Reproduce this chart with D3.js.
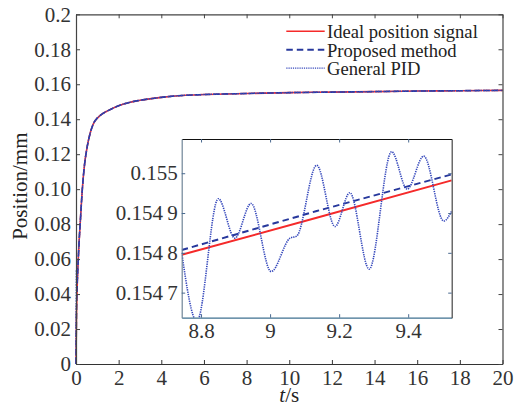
<!DOCTYPE html>
<html>
  <head>
    <meta charset="utf-8">
    <script src="https://d3js.org/d3.v7.min.js"></script>
    <title>Position response</title>
    <style>
      body { margin: 0px; background: #fff; }
      svg { font-family: "Liberation Serif", "Times New Roman", serif; }
      .tick text { fill: #333; }
    </style>
  </head>
  <body>
    <svg width="526" height="410"></svg>
    <script>
      // main view, t in s, position in mm
      const mainTime     = [0, 0.02, 0.05, 0.1, 0.15, 0.2, 0.3, 0.4, 0.5, 0.6, 0.7, 0.8, 0.95, 1.1, 1.25, 1.5, 2, 2.5, 3, 4, 5, 6, 8, 10, 12, 14, 16, 18, 20];
      const idealMain    = [0, 0.025, 0.042, 0.058, 0.071, 0.081, 0.1005, 0.114, 0.1225, 0.1288, 0.1335, 0.1370, 0.1400, 0.1418, 0.1432, 0.1449, 0.1477, 0.1496, 0.1508, 0.1525, 0.1536, 0.1541, 0.1547, 0.1552, 0.1555, 0.1558, 0.1561, 0.1563, 0.1565];
      const proposedMain = [0, 0.026, 0.043, 0.058, 0.071, 0.081, 0.1005, 0.114, 0.1225, 0.1288, 0.1335, 0.1370, 0.1400, 0.1418, 0.1432, 0.1449, 0.1477, 0.1496, 0.1508, 0.1525, 0.1536, 0.1541, 0.1547, 0.1552, 0.1555, 0.1558, 0.1561, 0.1563, 0.1565];
      const pidMain      = [0, 0.054, 0.046, 0.059, 0.071, 0.081, 0.1005, 0.114, 0.1225, 0.1288, 0.1335, 0.1370, 0.1400, 0.1418, 0.1432, 0.1449, 0.1477, 0.1496, 0.1508, 0.1525, 0.1536, 0.1541, 0.1547, 0.1552, 0.1555, 0.1558, 0.1561, 0.1563, 0.1565];

      // zoomed inset
      const insetTime     = [8.744, 9.135, 9.526];
      const idealInset    = [0.154795, 0.154888, 0.154982];
      const proposedInset = [0.154807, 0.154905, 0.154997];
      const pidTime  = [8.744, 8.788, 8.850, 8.898, 8.945, 9.003, 9.058, 9.077, 9.135, 9.188, 9.231, 9.287, 9.352, 9.397, 9.445, 9.503, 9.526];
      const pidInset = [0.154800, 0.154628, 0.154936, 0.154837, 0.154924, 0.154753, 0.154837, 0.154842, 0.155020, 0.154866, 0.154951, 0.154759, 0.155054, 0.154960, 0.155043, 0.154880, 0.154905];

      const xTicks = [0, 2, 4, 6, 8, 10, 12, 14, 16, 18, 20];
      const yTicks = [0, 0.02, 0.04, 0.06, 0.08, 0.10, 0.12, 0.14, 0.16, 0.18, 0.2];
      const yTickLabels = ['0', '0.02', '0.04', '0.06', '0.08', '0.10', '0.12', '0.14', '0.16', '0.18', '0.2'];
      const insetXTicks = [8.8, 9, 9.2, 9.4];
      const insetXTickLabels = ['8.8', '9', '9.2', '9.4'];
      const insetYTicks = [0.1547, 0.1548, 0.1549, 0.155];
      const insetYTickLabels = ['0.154\u20097', '0.154\u20098', '0.154\u20099', '0.155'];
      const legendLabels = ['Ideal position signal', 'Proposed method', 'General PID'];

      const red = '#f52a2a';
      const blue = '#27389c';
      const dotBlue = '#3346bb';

      const svg = d3.select('svg');
      const width = +svg.attr('width');
      const height = +svg.attr('height');
      const margin = { left: 76, right: 23.5, top: 14.3, bottom: 46 };
      const innerWidth = width - margin.left - margin.right;
      const innerHeight = height - margin.top - margin.bottom;

      const g = svg.append('g')
          .attr('transform', `translate(${margin.left}, ${margin.top})`);

      const xScale = d3.scaleLinear().domain([0, 20]).range([0, innerWidth]);
      const yScale = d3.scaleLinear().domain([0, 0.2]).range([innerHeight, 0]);

      const styleAxis = (sel, col) => {
        sel.attr('font-family', null).attr('font-size', null);
        sel.selectAll('path').attr('stroke', col).attr('stroke-width', 1.2);
        sel.selectAll('line').attr('stroke', col);
        sel.selectAll('text').style('font-size', '21px');
      };

      const main = g.append('g');
      const mainLine = vals => d3.line()
          .x((d, i) => xScale(mainTime[i]))
          .y(d => yScale(d))
          .curve(d3.curveMonotoneX)(vals);

      main.append('path').attr('d', mainLine(idealMain))
          .attr('fill', 'none').attr('stroke', red).attr('stroke-width', 1.6);
      main.append('path').attr('d', mainLine(proposedMain))
          .attr('fill', 'none').attr('stroke', blue).attr('stroke-width', 1.6)
          .attr('stroke-dasharray', '6,3');
      main.append('path').attr('d', mainLine(pidMain))
          .attr('fill', 'none').attr('stroke', dotBlue).attr('stroke-width', 1.4)
          .attr('stroke-dasharray', '1.5,1.2');

      // axes (ticks pointing inwards, boxed)
      g.append('g').attr('transform', `translate(0, ${innerHeight})`)
          .call(d3.axisBottom(xScale).tickValues(xTicks).tickFormat(d3.format('d'))
            .tickSize(-4).tickSizeOuter(0).tickPadding(6))
          .call(s => styleAxis(s, '#333'));
      g.append('g')
          .call(d3.axisTop(xScale).tickValues(xTicks).tickFormat('')
            .tickSize(-4).tickSizeOuter(0))
          .call(s => styleAxis(s, '#444'));
      g.append('g')
          .call(d3.axisLeft(yScale).tickValues(yTicks).tickFormat((d, i) => yTickLabels[i])
            .tickSize(-4).tickSizeOuter(0).tickPadding(5))
          .call(s => styleAxis(s, '#444'));
      g.append('g').attr('transform', `translate(${innerWidth}, 0)`)
          .call(d3.axisRight(yScale).tickValues(yTicks).tickFormat('')
            .tickSize(-4).tickSizeOuter(0))
          .call(s => styleAxis(s, '#444'));

      // axis titles
      const xTitle = svg.append('text')
          .attr('x', margin.left + innerWidth / 2)
          .attr('y', 402)
          .attr('text-anchor', 'middle')
          .style('font-size', '21px')
          .attr('fill', '#222');
      xTitle.append('tspan').attr('font-style', 'italic').text('t');
      xTitle.append('tspan').text('/s');

      svg.append('text')
          .attr('transform', `translate(26.5, ${margin.top + innerHeight / 2 - 3}) rotate(-90)`)
          .attr('text-anchor', 'middle')
          .style('font-size', '21px')
          .attr('fill', '#222')
          .text('Position/mm');

      // legend
      const legend = svg.append('g');
      const legendStyles = [
        { stroke: red, width: 1.6, dash: null },
        { stroke: blue, width: 2, dash: '6.5,4' },
        { stroke: dotBlue, width: 1.4, dash: '1.2,1' }
      ];
      legendLabels.forEach((label, i) => {
        const y = 38.3 + i * 18.4;
        legend.append('line')
            .attr('x1', 286.3).attr('x2', 324.7)
            .attr('y1', y - 7).attr('y2', y - 7)
            .attr('stroke', legendStyles[i].stroke)
            .attr('stroke-width', legendStyles[i].width)
            .attr('stroke-dasharray', legendStyles[i].dash);
        legend.append('text')
            .attr('x', 327).attr('y', y)
            .style('font-size', '18.6px')
            .attr('fill', '#222')
            .text(label);
      });

      // inset
      const inset = { left: 181.7, top: 139, right: 451.7, bottom: 317.7 };
      const ix = d3.scaleLinear().domain([8.744, 9.526]).range([0, inset.right - inset.left]);
      const iy = d3.scaleLinear().domain([0.154637, 0.155086]).range([inset.bottom - inset.top, 0]);
      const ig = svg.append('g').attr('transform', `translate(${inset.left}, ${inset.top})`);
      const ih = inset.bottom - inset.top;
      const iw = inset.right - inset.left;

      ig.append('rect').attr('width', iw).attr('height', ih).attr('fill', '#fff');

      svg.append('clipPath').attr('id', 'inset-clip')
        .append('rect').attr('width', iw).attr('height', ih);

      const ic = ig.append('g').attr('clip-path', 'url(#inset-clip)');
      const insetLine = (ts, vals, curve) => d3.line()
          .x((d, i) => ix(ts[i]))
          .y(d => iy(d))
          .curve(curve)(vals);

      ic.append('path').attr('d', insetLine(insetTime, idealInset, d3.curveLinear))
          .attr('fill', 'none').attr('stroke', red).attr('stroke-width', 2);
      ic.append('path').attr('d', insetLine(insetTime, proposedInset, d3.curveLinear))
          .attr('fill', 'none').attr('stroke', blue).attr('stroke-width', 2)
          .attr('stroke-dasharray', '6.5,4');
      ic.append('path').attr('d', insetLine(pidTime, pidInset, d3.curveMonotoneX))
          .attr('fill', 'none').attr('stroke', dotBlue).attr('stroke-width', 1.6)
          .attr('stroke-dasharray', '1.3,1');

      ig.append('g').attr('transform', `translate(0, ${ih})`)
          .call(d3.axisBottom(ix).tickValues(insetXTicks).tickFormat((d, i) => insetXTickLabels[i])
            .tickSize(-3.5).tickSizeOuter(0).tickPadding(5))
          .call(s => styleAxis(s, '#3f7090'));
      ig.append('g')
          .call(d3.axisTop(ix).tickValues(insetXTicks).tickFormat('')
            .tickSize(-3.5).tickSizeOuter(0))
          .call(s => styleAxis(s, '#111'));
      ig.append('g')
          .call(d3.axisLeft(iy).tickValues(insetYTicks).tickFormat((d, i) => insetYTickLabels[i])
            .tickSize(-3.5).tickSizeOuter(0).tickPadding(4))
          .call(s => styleAxis(s, '#6f8597'));
      ig.append('g').attr('transform', `translate(${iw}, 0)`)
          .call(d3.axisRight(iy).tickValues(insetYTicks).tickFormat('')
            .tickSize(-3.5).tickSizeOuter(0))
          .call(s => styleAxis(s, '#444'));
      ig.selectAll('.tick line').attr('stroke', '#4a6a90');
    </script>
  </body>
</html>
